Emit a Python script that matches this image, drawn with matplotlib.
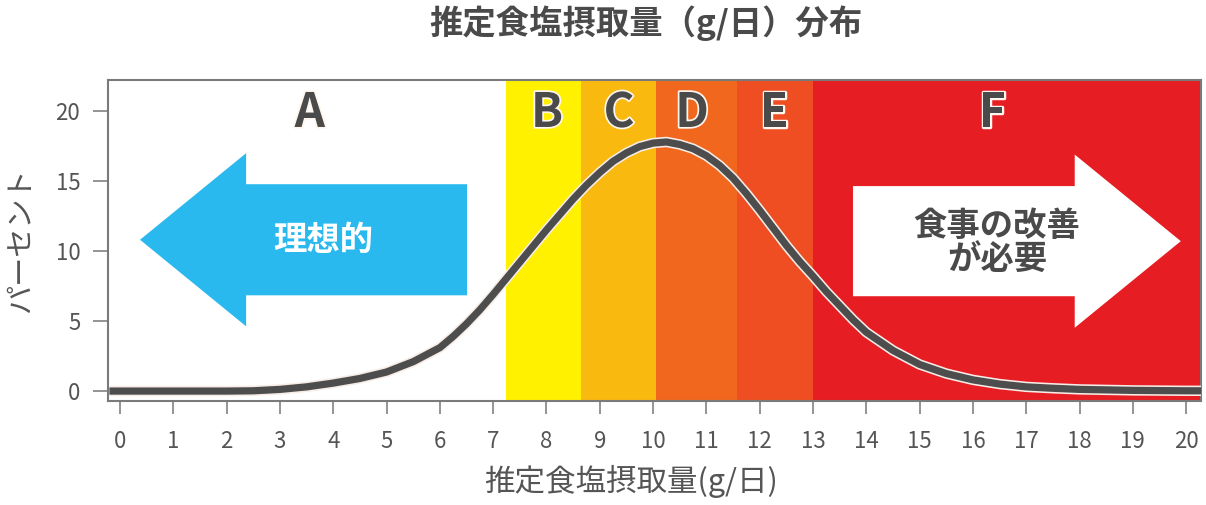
import numpy as np
import matplotlib
matplotlib.use('Agg')
import matplotlib.pyplot as plt
import matplotlib.patheffects as pe
from matplotlib.patches import FancyArrow

plt.rcParams['font.family'] = ['Noto Sans CJK JP', 'DejaVu Sans']

# Salt intake distribution (g/day vs percent)
salt = [-0.2, 0, 1, 2, 2.5, 3, 3.5, 4, 4.5, 5, 5.5, 6, 6.25, 6.5, 6.75, 7, 7.25,
        7.5, 7.75, 8, 8.25, 8.5, 8.75, 9, 9.25, 9.5, 9.75, 10, 10.25, 10.5, 10.75,
        11, 11.25, 11.5, 11.75, 12, 12.25, 12.5, 12.75, 13, 13.25, 13.5, 13.75,
        14, 14.5, 15, 15.5, 16, 16.5, 17, 17.5, 18, 19, 20, 20.3]
percent = [0.0, 0.0, 0.0, 0.0, 0.02, 0.12, 0.3, 0.57, 0.9, 1.36, 2.1, 3.1, 3.9,
           4.8, 5.8, 6.9, 8.05, 9.2, 10.35, 11.5, 12.6, 13.7, 14.7, 15.6, 16.4,
           17.0, 17.45, 17.7, 17.78, 17.6, 17.3, 16.8, 16.1, 15.2, 14.1, 12.9,
           11.65, 10.4, 9.25, 8.2, 7.1, 6.1, 5.1, 4.2, 2.9, 1.9, 1.25, 0.8, 0.5,
           0.3, 0.2, 0.12, 0.05, 0.02, 0.02]

# Category bands
band_labels = ['A', 'B', 'C', 'D', 'E', 'F']
band_edges = [-0.225, 7.24, 8.65, 10.05, 11.58, 13.0, 20.28]
band_colors = ['#ffffff', '#fff100', '#f9b90f', '#f0671d', '#ee4e22', '#e71d24']
label_x = [3.56, 8.01, 9.36, 10.73, 12.27, 16.36]

dark = '#4a4a4a'

fig = plt.figure(figsize=(12.06, 5.05), dpi=100)
ax = fig.add_axes([0.0896, 0.2059, 0.9063, 0.6356])
ax.set_xlim(band_edges[0], band_edges[-1])
ax.set_ylim(-0.71, 22.2)

for i in range(len(band_labels)):
    ax.axvspan(band_edges[i], band_edges[i + 1], color=band_colors[i], lw=0, zorder=0)
    ax.text(label_x[i], 19.85, band_labels[i], ha='center', va='center',
            fontsize=34, fontweight='bold', color=dark, zorder=5,
            path_effects=[pe.withStroke(linewidth=2.5, foreground='#fff6ee')])

# arrows
ax.add_patch(FancyArrow(6.51, 10.8, -6.135, 0, width=7.93, head_width=12.36,
                        head_length=1.99, length_includes_head=True,
                        color='#29b9ee', lw=0, zorder=2))
ax.add_patch(FancyArrow(13.75, 10.7, 6.15, 0, width=7.86, head_width=12.36,
                        head_length=1.99, length_includes_head=True,
                        color='#ffffff', lw=0, zorder=2))
ax.text(3.81, 10.75, '理想的', ha='center', va='center', fontsize=24,
        fontweight='bold', color='white', zorder=3)
ax.text(16.45, 10.55, '食事の改善\nが必要', ha='center', va='center', fontsize=24,
        fontweight='bold', color=dark, linespacing=1.05, zorder=3)

# distribution curve
ax.plot(salt, percent, color='#4d4d4d', lw=5.2, solid_capstyle='butt',
        solid_joinstyle='round', zorder=4,
        path_effects=[pe.Stroke(linewidth=7.5, foreground='#f7ece6'), pe.Normal()])

for s in ax.spines.values():
    s.set_color('#7a7a7a')
    s.set_linewidth(1.5)

ax.set_xticks(range(0, 21))
ax.set_yticks([0, 5, 10, 15, 20])
ax.tick_params(axis='x', length=9, width=1.1, color='#777777', pad=12,
               labelsize=16, labelcolor='#555555')
ax.tick_params(axis='y', length=11, width=1.1, color='#777777', pad=9,
               labelsize=16, labelcolor='#555555')

ax.set_xlabel('推定食塩摂取量(g/日)', fontsize=22, color='#555555', va='center')
ax.xaxis.set_label_coords(0.4785, -0.252)
ax.set_ylabel('パーセント', fontsize=21, color='#555555', labelpad=14)
fig.text(0.536, 0.955, '推定食塩摂取量（g/日）分布', ha='center', va='center',
         fontsize=24, fontweight='bold', color=dark)

fig.savefig('out.png', dpi=100)
